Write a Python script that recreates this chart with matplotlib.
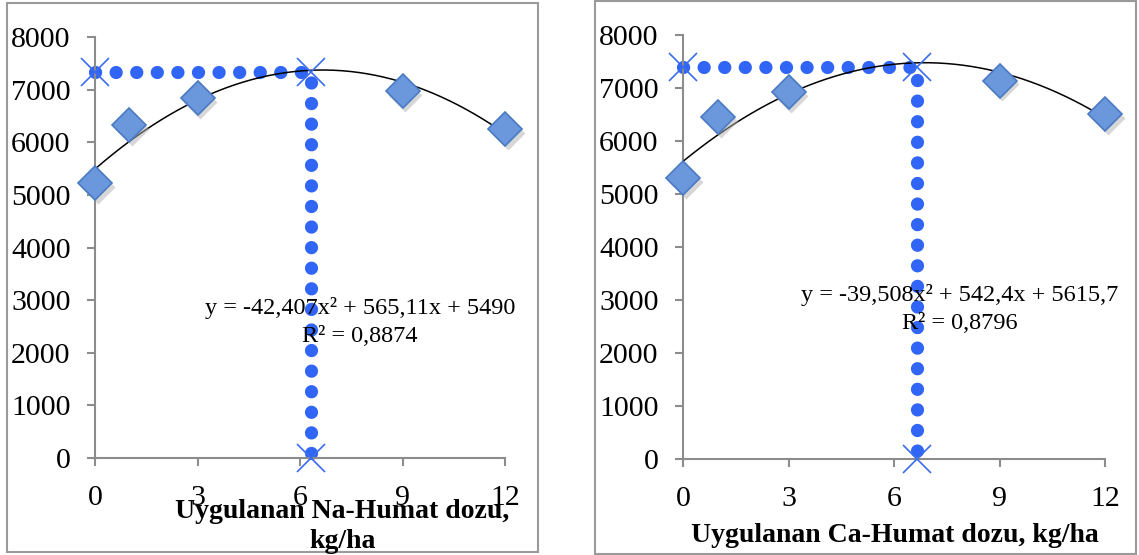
import matplotlib.pyplot as plt
import numpy as np
from matplotlib.patches import Rectangle

# doses (kg/ha) and yields
doses = [0, 1, 3, 9, 12]
na_yield = [5220, 6330, 6840, 6970, 6250]
ca_yield = [5300, 6450, 6920, 7140, 6510]

# trendline coefficients as printed on the chart
na_coef = [-42.407, 565.11, 5490]
ca_coef = [-39.508, 542.4, 5615.7]
na_eq = ['y = -42,407x² + 565,11x + 5490', 'R² = 0,8874']
ca_eq = ['y = -39,508x² + 542,4x + 5615,7', 'R² = 0,8796']

# optimum dose / yield guide points
na_opt = (6.32, 7335)
ca_opt = (6.65, 7396)

xticks = [0, 3, 6, 9, 12]
yticks = [0, 1000, 2000, 3000, 4000, 5000, 6000, 7000, 8000]

plt.rcParams['font.family'] = ['Liberation Serif', 'DejaVu Serif']

fig = plt.figure(figsize=(11.39, 5.55), dpi=100)

# panel frames
fig.patches.append(Rectangle((7 / 1139, 1 - 552 / 555), 531 / 1139, 549 / 555,
                             transform=fig.transFigure, fill=False, ec='#9a9a9a', lw=1.5))
fig.patches.append(Rectangle((595 / 1139, 1 / 555), 541 / 1139, 553 / 555,
                             transform=fig.transFigure, fill=False, ec='#9a9a9a', lw=1.5))

ax1 = fig.add_axes([95 / 1139, 1 - 458 / 555, 410 / 1139, 421 / 555])
ax2 = fig.add_axes([683 / 1139, 1 - 459 / 555, 422 / 1139, 424 / 555])

dot_col = '#3065f5'
grey = '#8c8c8c'


def draw_panel(ax, y, coef, opt, eq, eq_pos, eq_pos2):
    xs = np.linspace(0, 12, 200)
    ax.plot(xs, np.polyval(coef, xs), color='black', lw=1.1, zorder=3)

    gx = [0, opt[0], opt[0]]
    gy = [opt[1], opt[1], 0]
    ln, = ax.plot(gx, gy, color=dot_col, lw=9.5, zorder=2, clip_on=False)
    ln.set_dashes([0.01, 1.55])
    ln.set_dash_capstyle('round')
    ax.plot(gx, gy, ls='none', marker='x', ms=20, mew=1.2, color='#3b6cf0',
            zorder=4, clip_on=False)

    # soft shadow then diamonds
    ax.plot(np.array(doses) + 0.08, np.array(y) - 70, ls='none', marker='D', ms=17,
            color='#b0b0b0', alpha=0.5, mec='none', zorder=4, clip_on=False)
    ax.plot(doses, y, ls='none', marker='D', ms=17, mfc='#6b98dc', mec='#4a7bc2',
            mew=1.2, zorder=5, clip_on=False)

    ax.set_xlim(0, 12)
    ax.set_ylim(0, 8000)
    ax.set_xticks(xticks)
    ax.set_yticks(yticks)
    for s in ['top', 'right']:
        ax.spines[s].set_visible(False)
    for s in ['left', 'bottom']:
        ax.spines[s].set_color(grey)
        ax.spines[s].set_linewidth(1.5)
    ax.tick_params(direction='out', length=5.5, width=1.5, color=grey,
                   labelsize=21.5, pad=12)
    ax.tick_params(axis='x', pad=14)

    ax.text(eq_pos[0], eq_pos[1], eq[0], fontsize=17.5, ha='center', va='center', zorder=6)
    ax.text(eq_pos2[0], eq_pos2[1], eq[1], fontsize=17.5, ha='center', va='center', zorder=6)


draw_panel(ax1, na_yield, na_coef, na_opt, na_eq, (7.76, 2850), (7.76, 2300))
draw_panel(ax2, ca_yield, ca_coef, ca_opt, ca_eq, (7.88, 3094), (7.88, 2566))

fig.text(342 / 1139, 1 - 511 / 555, 'Uygulanan Na-Humat dozu,', fontsize=20,
         fontweight='bold', ha='center', va='center')
fig.text(343 / 1139, 1 - 542 / 555, 'kg/ha', fontsize=20,
         fontweight='bold', ha='center', va='center')
fig.text(895 / 1139, 1 - 536 / 555, 'Uygulanan Ca-Humat dozu, kg/ha', fontsize=20,
         fontweight='bold', ha='center', va='center')

fig.savefig('out.png', dpi=100)
